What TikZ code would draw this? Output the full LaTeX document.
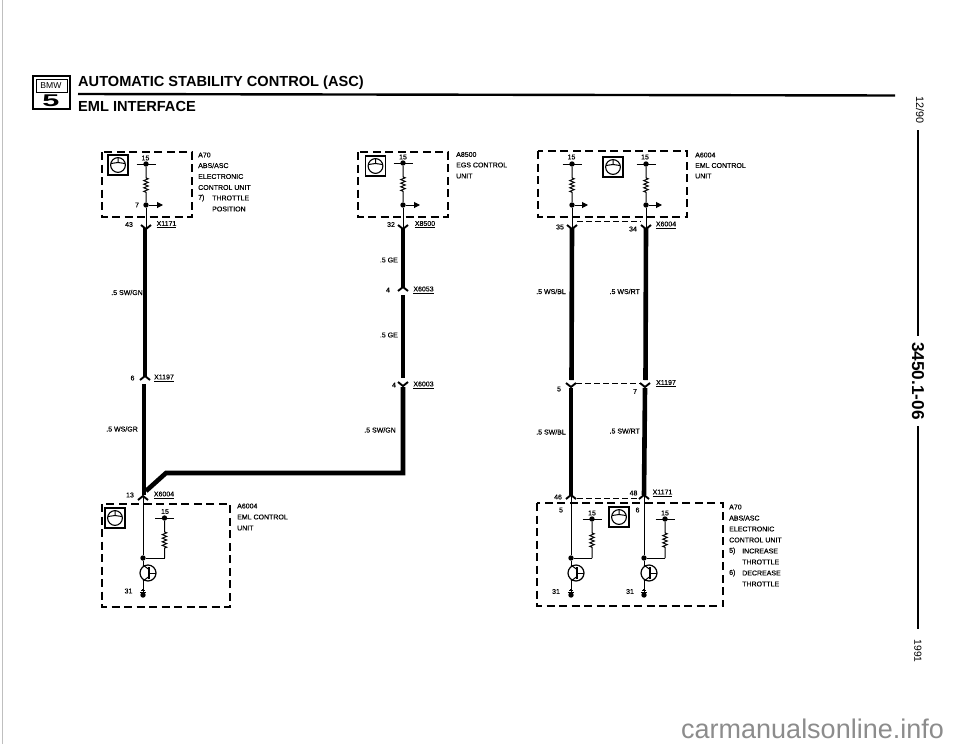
\documentclass[tikz,border=0pt]{standalone}
\usepackage{fontspec}
\setmainfont{Liberation Sans}
\newfontfamily\lblfont[FakeBold=0.35]{Liberation Sans}
\usetikzlibrary{arrows.meta,decorations.pathmorphing}
\tikzset{
  lbl/.style={font=\lblfont\fontsize{7}{8}\selectfont,inner sep=0pt},
  lblw/.style={lbl,anchor=west},
  lble/.style={lbl,anchor=east},
  ctrlbox/.style={line width=1.9pt,dash pattern=on 8pt off 4.5pt},
  linkdash/.style={line width=1pt,dash pattern=on 6pt off 3pt},
  fatwire/.style={line width=4.6pt},
  thinwire/.style={line width=1pt},
  reswire/.style={thinwire,decorate,decoration={zigzag,amplitude=2.2pt,segment length=3.6pt,pre length=11pt,post length=9pt}},
  tapwire/.style={thinwire,-{Triangle[length=6pt,width=6pt]}},
  condot/.style={circle,fill=black,inner sep=0pt,minimum size=5.4pt},
  chevron/.style={line width=1.9pt},
  wheelicon/.pic={
    \draw[line width=1.2pt] (-10,-10) rectangle (10,10);
    \draw[line width=1.1pt] (0,0) circle (7.4);
    \draw[line width=1pt] (-7,1.5) -- (0,2.5) -- (7,1.5) (0,2.5) -- (0,7);
  },
  transpic/.pic={
    \draw[line width=1.2pt] (5,0) circle (8);
    \draw[thinwire] (0,-8) -- (6,-3.5);
    \draw[line width=1.3pt] (6,-6) -- (6,6);
    \draw[thinwire] (6,3.5) -- (0,8);
    \draw[thinwire] (6,0) -- (13,0);
  },
  gndpic/.pic={
    \draw[line width=1pt] (-3.2,2.4) -- (3.2,2.4);
    \draw[line width=1pt] (-2,4.2) -- (2,4.2);
    \draw[line width=0.8pt] (-0.8,5.6) -- (0.8,5.6);
  }
}
\newcommand{\resleg}[3]{
  \node[condot] (#1) at (#2,#3) {};
  \coordinate (#1l) at (#2-9.5,#3);
  \coordinate (#1r) at (#2+9.5,#3);
  \draw[line width=1pt] (#1l) -- (#1r);
}
\newcommand{\chevdown}[1]{\draw[chevron] ([shift={(-5,-4)}]#1) -- (#1) -- ([shift={(5,-4)}]#1);}
\newcommand{\chevup}[1]{\draw[chevron] ([shift={(-5,4)}]#1) -- (#1) -- ([shift={(5,4)}]#1);}
\begin{document}
\begin{tikzpicture}[x=1pt,y=1pt,yscale=-1,xscale=1]
  \useasboundingbox (0,0) rectangle (960,744);

  \coordinate (edgea) at (2,0);
  \coordinate (edgeb) at (2,744);
  \draw[black!25,line width=0.5pt] (edgea) -- (edgeb);

  \draw[line width=2.6pt] (33,76) rectangle (70,109);
  \draw[line width=0.6pt] (36,79) rectangle (67,92);
  \node[inner sep=0pt,font=\fontsize{8.6}{9}\selectfont] (logobmw) at (51,85.5) {BMW};
  \node[inner sep=0pt,font=\bfseries\fontsize{17}{17}\selectfont,xscale=1.8] (logofive) at (51,101) {5};
  \node[inner sep=0pt,anchor=west,font=\bfseries\fontsize{14.6}{15}\selectfont] (title) at (78,83) {AUTOMATIC STABILITY CONTROL (ASC)};
  \node[inner sep=0pt,anchor=west,font=\bfseries\fontsize{14.6}{15}\selectfont] (subtitle) at (78,106) {EML INTERFACE};
  \coordinate (rulea) at (78,94);
  \coordinate (ruleb) at (895,95.5);
  \draw[line width=2.4pt] (rulea) -- (ruleb);

  \node[inner sep=0pt,rotate=-90,font=\fontsize{10.8}{11}\selectfont] (sidedate) at (920,110) {12/90};
  \node[inner sep=0pt,rotate=-90,font=\bfseries\fontsize{17.2}{18}\selectfont] (sidepage) at (918,381) {3450.1-06};
  \node[inner sep=0pt,rotate=-90,font=\fontsize{10.3}{11}\selectfont] (sideyear) at (918,651) {1991};
  \coordinate (sidea) at (918,130);
  \coordinate (sideb) at (918,336);
  \coordinate (sidec) at (918,426);
  \coordinate (sided) at (918,629);
  \draw[line width=2pt] (sidea) -- (sideb);
  \draw[line width=2pt] (sidec) -- (sided);

  \draw[ctrlbox] (102,152) rectangle (192,217);
  \pic at (118,165) {wheelicon};
  \resleg{atop}{146}{164}
  \node[condot] (atap) at (146,205) {};
  \coordinate (atapend) at (163,205);
  \coordinate (aconn) at (146,229);
  \draw[reswire] (atop) -- (atap);
  \draw[tapwire] (atap) -- (atapend);
  \draw[thinwire] (atap) -- (aconn);
  \chevdown{aconn}
  \node[lbl] (a15) at (145.5,158) {15};
  \node[lbl] (a7) at (137,205) {7};
  \node[lbl] (a43) at (129,224.5) {43};
  \node[lbl] (ax1171) at (166.5,224.5) {\underline{X1171}};
  \node[lblw] (atxta) at (198,155) {A70};
  \node[lblw] (atxtb) at (198,165.5) {ABS/ASC};
  \node[lblw] (atxtc) at (198,176.5) {ELECTRONIC};
  \node[lblw] (atxtd) at (198,187.5) {CONTROL UNIT};
  \node[lblw] (atxte) at (198,198) {7)};
  \node[lblw] (atxtf) at (212,198) {THROTTLE};
  \node[lblw] (atxtg) at (212,209) {POSITION};

  \coordinate (awirea) at (145,228);
  \coordinate (awireb) at (145,376);
  \coordinate (amid) at (145,376);
  \coordinate (awirec) at (144,384);
  \coordinate (awired) at (144,495);
  \draw[fatwire] (awirea) -- (awireb);
  \draw[fatwire] (awirec) -- (awired);
  \chevup{amid}
  \node[lble] (aswgn) at (143,292.5) {.5 SW/GN};
  \node[lbl] (a6) at (132.5,378) {6};
  \node[lbl] (ax1197) at (164,378) {\underline{X1197}};
  \node[lble] (awsgr) at (138,429) {.5 WS/GR};

  \coordinate (bendlow) at (146,491);
  \coordinate (bendknee) at (166,473);
  \coordinate (bendcorner) at (403,473);
  \coordinate (cwireh) at (403,387);
  \draw[fatwire,line join=miter] (bendlow) -- (bendknee) -- (bendcorner) -- (cwireh);

  \coordinate (econn) at (143,496);
  \chevup{econn}
  \node[lbl] (e13) at (130,495) {13};
  \node[lbl] (ex6004) at (164,495) {\underline{X6004}};
  \draw[ctrlbox] (102,504) rectangle (230,607);
  \pic at (115,518) {wheelicon};
  \resleg{etop}{164.5}{518}
  \node[condot] (ejoin) at (143,558) {};
  \coordinate (eelbow) at (164.5,558);
  \coordinate (etra) at (143,565);
  \coordinate (etrb) at (143,581);
  \node[condot] (egnd) at (143,595) {};
  \draw[thinwire] (econn) -- (ejoin);
  \draw[reswire] (etop) -- (eelbow);
  \draw[thinwire] (eelbow) -- (ejoin);
  \draw[thinwire] (ejoin) -- (etra);
  \draw[thinwire] (etrb) -- (egnd);
  \pic at (143,573) {transpic};
  \pic at (143,595) {gndpic};
  \node[lbl] (e15) at (165,511.5) {15};
  \node[lbl] (e31) at (128.5,591) {31};
  \node[lblw] (etxta) at (237,506) {A6004};
  \node[lblw] (etxtb) at (237,517) {EML CONTROL};
  \node[lblw] (etxtc) at (237,528) {UNIT};

  \draw[ctrlbox] (358,152) rectangle (448,217);
  \pic at (375.5,166) {wheelicon};
  \resleg{ctop}{403}{163}
  \node[condot] (ctap) at (403,205) {};
  \coordinate (ctapend) at (420,205);
  \coordinate (cconn) at (403,229);
  \draw[reswire] (ctop) -- (ctap);
  \draw[tapwire] (ctap) -- (ctapend);
  \draw[thinwire] (ctap) -- (cconn);
  \chevdown{cconn}
  \node[lbl] (c15) at (403,157) {15};
  \node[lbl] (c32) at (391,224.5) {32};
  \node[lbl] (cx8500) at (425,224.5) {\underline{X8500}};
  \node[lblw] (ctxta) at (456,154.5) {A8500};
  \node[lblw] (ctxtb) at (456,165) {EGS CONTROL};
  \node[lblw] (ctxtc) at (456,176) {UNIT};

  \coordinate (cwirea) at (403,228);
  \coordinate (cwireb) at (403,287);
  \coordinate (cmida) at (403,287);
  \coordinate (cwirec) at (403,295);
  \coordinate (cwired) at (403,378);
  \coordinate (cmidb) at (403,386);
  \draw[fatwire] (cwirea) -- (cwireb);
  \draw[fatwire] (cwirec) -- (cwired);
  \chevup{cmida}
  \chevdown{cmidb}
  \node[lble] (cgea) at (398,260) {.5 GE};
  \node[lbl] (c4a) at (388,290) {4};
  \node[lbl] (cx6053) at (423.5,290) {\underline{X6053}};
  \node[lble] (cgeb) at (398,335) {.5 GE};
  \node[lbl] (c4b) at (394,385) {4};
  \node[lbl] (cx6003) at (423.5,385) {\underline{X6003}};
  \node[lble] (cswgn) at (396,430) {.5 SW/GN};

  \draw[ctrlbox] (538,151) rectangle (687,217);
  \pic at (613,167) {wheelicon};
  \resleg{dtopa}{572}{164}
  \resleg{dtopb}{646}{164}
  \node[condot] (dtapa) at (572,205) {};
  \node[condot] (dtapb) at (646,205) {};
  \coordinate (dtapenda) at (588,205);
  \coordinate (dtapendb) at (662,205);
  \coordinate (dconna) at (572,229);
  \coordinate (dconnb) at (646,229);
  \draw[reswire] (dtopa) -- (dtapa);
  \draw[reswire] (dtopb) -- (dtapb);
  \draw[tapwire] (dtapa) -- (dtapenda);
  \draw[tapwire] (dtapb) -- (dtapendb);
  \draw[thinwire] (dtapa) -- (dconna);
  \draw[thinwire] (dtapb) -- (dconnb);
  \chevdown{dconna}
  \chevdown{dconnb}
  \coordinate (dlinka) at (577,221.5);
  \coordinate (dlinkb) at (641,221.5);
  \draw[linkdash] (dlinka) -- (dlinkb);
  \node[lbl] (d15a) at (571.5,157) {15};
  \node[lbl] (d15b) at (645,157) {15};
  \node[lbl] (d35) at (560,227) {35};
  \node[lbl] (d34) at (633,229) {34};
  \node[lbl] (dx6004) at (666,225) {\underline{X6004}};
  \node[lblw] (dtxta) at (695,155) {A6004};
  \node[lblw] (dtxtb) at (695,165.5) {EML CONTROL};
  \node[lblw] (dtxtc) at (695,176) {UNIT};

  \coordinate (dwirea) at (572,228);
  \coordinate (dwireb) at (571.5,380);
  \coordinate (dwirec) at (571,388);
  \coordinate (dwired) at (571,495);
  \coordinate (dwiree) at (646,228);
  \coordinate (dwiref) at (645.5,380);
  \coordinate (dwireg) at (645,388);
  \coordinate (dwireh) at (644,495);
  \coordinate (dmida) at (571,387);
  \coordinate (dmidb) at (645,387);
  \draw[fatwire] (dwirea) -- (dwireb);
  \draw[fatwire] (dwirec) -- (dwired);
  \draw[fatwire] (dwiree) -- (dwiref);
  \draw[fatwire] (dwireg) -- (dwireh);
  \chevdown{dmida}
  \chevdown{dmidb}
  \coordinate (dlinkc) at (576,383.5);
  \coordinate (dlinkd) at (640,383.5);
  \draw[linkdash] (dlinkc) -- (dlinkd);
  \node[lble] (dwsbl) at (566,291.5) {.5 WS/BL};
  \node[lble] (dwsrt) at (640,291.5) {.5 WS/RT};
  \node[lbl] (d5) at (559,389) {5};
  \node[lbl] (d7) at (635,391.5) {7};
  \node[lbl] (dx1197) at (666,383.5) {\underline{X1197}};
  \node[lble] (dswbl) at (566,432) {.5 SW/BL};
  \node[lble] (dswrt) at (640,431) {.5 SW/RT};

  \coordinate (fconna) at (571,495);
  \coordinate (fconnb) at (644,495);
  \chevup{fconna}
  \chevup{fconnb}
  \coordinate (flinka) at (577,498);
  \coordinate (flinkb) at (638,498);
  \draw[linkdash] (flinka) -- (flinkb);
  \node[lbl] (f46) at (558,497) {46};
  \node[lbl] (f48) at (633.5,493) {48};
  \node[lbl] (fx1171) at (662.5,493) {\underline{X1171}};
  \draw[ctrlbox] (537,503) rectangle (723,606);
  \pic at (619,517) {wheelicon};
  \resleg{ftopa}{592}{519}
  \resleg{ftopb}{665}{519}
  \node[condot] (fjoina) at (571,558) {};
  \node[condot] (fjoinb) at (644,558) {};
  \coordinate (felbowa) at (592,558);
  \coordinate (felbowb) at (665,558);
  \coordinate (ftraa) at (571,565);
  \coordinate (ftrab) at (571,581);
  \coordinate (ftrba) at (644,565);
  \coordinate (ftrbb) at (644,581);
  \node[condot] (fgnda) at (571,595) {};
  \node[condot] (fgndb) at (644,595) {};
  \draw[thinwire] (fconna) -- (fjoina);
  \draw[thinwire] (fconnb) -- (fjoinb);
  \draw[reswire] (ftopa) -- (felbowa);
  \draw[reswire] (ftopb) -- (felbowb);
  \draw[thinwire] (felbowa) -- (fjoina);
  \draw[thinwire] (felbowb) -- (fjoinb);
  \draw[thinwire] (fjoina) -- (ftraa);
  \draw[thinwire] (fjoinb) -- (ftrba);
  \draw[thinwire] (ftrab) -- (fgnda);
  \draw[thinwire] (ftrbb) -- (fgndb);
  \pic at (571,573) {transpic};
  \pic at (644,573) {transpic};
  \pic at (571,595) {gndpic};
  \pic at (644,595) {gndpic};
  \node[lbl] (f5) at (561,510) {5};
  \node[lbl] (f6) at (637.5,510) {6};
  \node[lbl] (f15a) at (592,513) {15};
  \node[lbl] (f15b) at (665,513) {15};
  \node[lbl] (f31a) at (556,591.5) {31};
  \node[lbl] (f31b) at (630,591.5) {31};
  \node[lblw] (ftxta) at (729,507) {A70};
  \node[lblw] (ftxtb) at (729,518) {ABS/ASC};
  \node[lblw] (ftxtc) at (729,529) {ELECTRONIC};
  \node[lblw] (ftxtd) at (729,540) {CONTROL UNIT};
  \node[lblw] (ftxte) at (729,551) {5)};
  \node[lblw] (ftxtf) at (742,551) {INCREASE};
  \node[lblw] (ftxtg) at (742,562) {THROTTLE};
  \node[lblw] (ftxth) at (729,573) {6)};
  \node[lblw] (ftxti) at (742,573) {DECREASE};
  \node[lblw] (ftxtj) at (742,584) {THROTTLE};

  \node[inner sep=0pt,anchor=west,text=black!45,font=\fontsize{27}{28}\selectfont] (watermark) at (681,729) {carmanualsonline.info};
\end{tikzpicture}
\end{document}
